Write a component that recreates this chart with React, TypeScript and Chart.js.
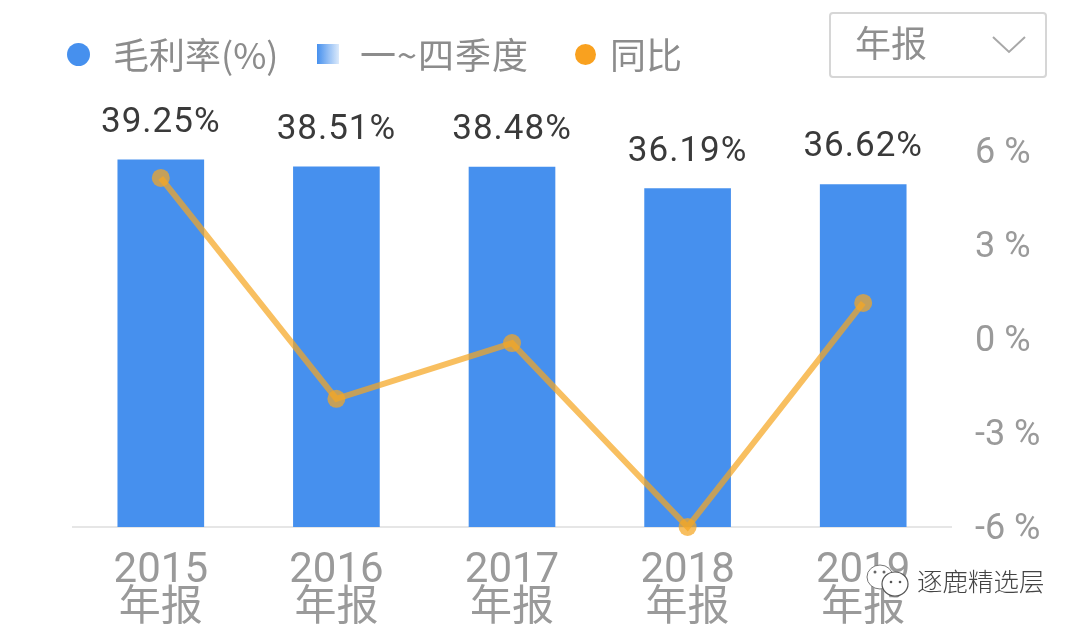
import { useEffect, useRef } from "react";
import { Chart, registerables } from "chart.js";

Chart.register(...registerables);

const years = ["2015", "2016", "2017", "2018", "2019"];
const period = "年报";
const margins = [39.25, 38.51, 38.48, 36.19, 36.62];
const yoy = [5.14, -1.91, -0.13, -6.0, 1.15];

const legendMargin = "毛利率(%)";
const legendQuarter = "一~四季度";
const legendYoy = "同比";
const watermark = "逐鹿精选层";

const FONT = 'Roboto, "Noto Sans CJK SC", sans-serif';
const CJK_FONT = '"Noto Sans CJK SC", Roboto, sans-serif';
const GREY = "#9a9a9a";

// the values above the bars
const barLabels = {
    id: "barLabels",
    afterDatasetsDraw(chart: Chart) {
        const ctx = chart.ctx;
        const bars = chart.getDatasetMeta(0).data;
        ctx.save();
        ctx.font = `35px ${FONT}`;
        (ctx as any).letterSpacing = "1px";
        ctx.fillStyle = "#3a3a3a";
        ctx.textAlign = "center";
        ctx.textBaseline = "alphabetic";
        bars.forEach((bar, i) => {
            ctx.fillText(margins[i].toFixed(2) + "%", bar.x, bar.y - 28);
        });
        ctx.restore();
    },
};

export default function App() {
    const canvasRef = useRef<HTMLCanvasElement | null>(null);

    useEffect(() => {
        const ctx = canvasRef.current?.getContext("2d");
        if (!ctx) return;

        const chart = new Chart(ctx, {
            type: "bar",
            data: {
                labels: years.map((y) => [y, period]),
                datasets: [
                    {
                        type: "bar",
                        label: legendMargin,
                        data: margins,
                        yAxisID: "yBar",
                        backgroundColor: "#4690ee",
                        barThickness: 86,
                        order: 2,
                    },
                    {
                        type: "line",
                        label: legendYoy,
                        data: yoy,
                        yAxisID: "yLine",
                        borderColor: "rgba(245,166,35,0.72)",
                        borderWidth: 6,
                        backgroundColor: "rgba(245,166,35,0.72)",
                        pointRadius: 9,
                        pointBorderWidth: 0,
                        tension: 0,
                        clip: false,
                        order: 1,
                    },
                ],
            },
            options: {
                responsive: false,
                animation: false,
                layout: { padding: { left: 73, top: 151 } },
                plugins: { legend: { display: false }, tooltip: { enabled: false } },
                scales: {
                    x: {
                        grid: { display: false },
                        border: { color: "#e6e6e6", width: 2 },
                        ticks: {
                            color: GREY,
                            padding: 18,
                            maxRotation: 0,
                            font: { family: FONT, size: 42, lineHeight: 0.9 },
                        },
                        afterFit(scale) {
                            scale.height = 101;
                        },
                    },
                    yBar: {
                        display: false,
                        min: 0,
                        max: 40.2,
                    },
                    yLine: {
                        position: "right",
                        min: -6,
                        max: 6,
                        grid: { display: false },
                        border: { display: false },
                        ticks: {
                            stepSize: 3,
                            color: GREY,
                            padding: 16,
                            labelOffset: 3,
                            font: { family: FONT, size: 36 },
                            callback: (value) => `${value} %`,
                        },
                        afterFit(scale) {
                            scale.width = 128;
                        },
                    },
                },
            },
            plugins: [barLabels],
        });

        return () => chart.destroy();
    }, []);

    const legendText = {
        position: "absolute",
        top: 28,
        fontFamily: CJK_FONT,
        fontSize: 36,
        lineHeight: "50px",
        color: "#8c8c8c",
        whiteSpace: "nowrap",
    } as const;

    return (
        <div style={{ position: "absolute", left: 0, top: 0, width: 1079, height: 628, background: "#fff", overflow: "hidden" }}>
            <canvas ref={canvasRef} width={1079} height={628} style={{ display: "block" }} />

            {/* legend */}
            <div style={{ position: "absolute", left: 67, top: 43, width: 23, height: 23, borderRadius: "50%", background: "#4690ee" }} />
            <div style={{ ...legendText, left: 113 }}>{legendMargin}</div>
            <div style={{ position: "absolute", left: 317, top: 44, width: 22, height: 20, background: "linear-gradient(to right, #4690ee, #dceafb)" }} />
            <div style={{ ...legendText, left: 360, letterSpacing: 1 }}>{legendQuarter}</div>
            <div style={{ position: "absolute", left: 575, top: 44, width: 21, height: 21, borderRadius: "50%", background: "#f9a11f" }} />
            <div style={{ ...legendText, left: 610 }}>{legendYoy}</div>

            {/* dropdown */}
            <div style={{ position: "absolute", left: 829, top: 12, width: 214, height: 62, border: "2px solid #d6d6d6", borderRadius: 4 }} />
            <div style={{ position: "absolute", left: 855, top: 16, fontFamily: CJK_FONT, fontSize: 36, lineHeight: "50px", color: "#8f8f8f" }}>{period}</div>
            <svg style={{ position: "absolute", left: 990, top: 34 }} width={38} height={22}>
                <polyline points="3,3 19,18 35,3" fill="none" stroke="#a8a8a8" strokeWidth={2} />
            </svg>

            {/* watermark */}
            <svg style={{ position: "absolute", left: 864, top: 562 }} width={48} height={38}>
                <ellipse cx={16} cy={15} rx={13} ry={12} fill="#fff" stroke="#777" strokeWidth={1} />
                <ellipse cx={31} cy={22} rx={13} ry={12} fill="#fff" stroke="#555" strokeWidth={1.2} />
                <circle cx={11} cy={10} r={1.5} fill="#666" />
                <circle cx={20} cy={10} r={1.5} fill="#666" />
                <circle cx={27} cy={20} r={1.3} fill="#555" />
                <circle cx={36} cy={20} r={1.3} fill="#555" />
            </svg>
            <div
                style={{
                    position: "absolute",
                    left: 917,
                    top: 562,
                    fontFamily: CJK_FONT,
                    fontWeight: 300,
                    fontSize: 25.5,
                    lineHeight: "36px",
                    color: "#444",
                    whiteSpace: "nowrap",
                    textShadow: "0 0 2px #fff, 0 0 2px #fff, 0 0 3px #fff",
                }}
            >
                {watermark}
            </div>
        </div>
    );
}
